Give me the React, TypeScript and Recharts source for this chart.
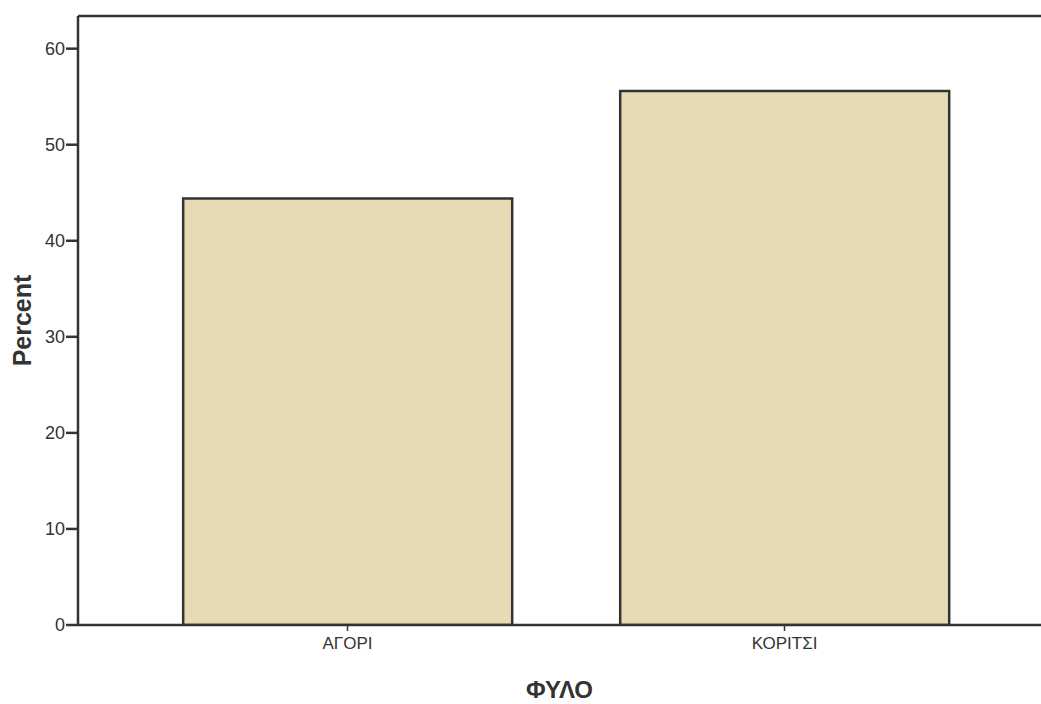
import React from 'react';
import { BarChart, Bar, XAxis, YAxis, ReferenceLine, Label } from 'recharts';

const categories = ['ΑΓΟΡΙ', 'ΚΟΡΙΤΣΙ'];
const percents = [44.4, 55.6];
const yTicks = [0, 10, 20, 30, 40, 50, 60];
const xTitle = 'ΦΥΛΟ';
const yTitle = 'Percent';

const data = categories.map((c, i) => ({ name: c, value: percents[i] }));

const FONT = '"Liberation Sans", Arial, sans-serif';
const INK = '#333333';

export default function App() {
  return (
    <div style={{ position: 'absolute', left: 0, top: 0, width: 1041, height: 704, background: '#ffffff' }}>
      <BarChart
        width={1041}
        height={704}
        data={data}
        margin={{ top: 16, right: 0, bottom: 0, left: 0 }}
        barCategoryGap="12.4%"
      >
        <XAxis
          dataKey="name"
          height={79}
          padding={{ left: 51, right: 38 }}
          axisLine={{ stroke: INK, strokeWidth: 2.5 }}
          tickLine={{ stroke: INK, strokeWidth: 1.5 }}
          tickSize={6}
          tickMargin={6}
          tick={{ fill: INK, fontSize: 17, fontFamily: FONT }}
        >
          <Label
            value={xTitle}
            position="insideBottom"
            offset={6}
            style={{ fill: INK, fontSize: 24, fontWeight: 'bold', fontFamily: FONT }}
          />
        </XAxis>
        <YAxis
          width={78}
          domain={[0, 63.4]}
          ticks={yTicks}
          allowDataOverflow
          axisLine={{ stroke: INK, strokeWidth: 2.5 }}
          tickLine={{ stroke: INK, strokeWidth: 2.5 }}
          tickSize={12}
          tickMargin={1}
          tick={{ fill: INK, fontSize: 18, fontFamily: FONT }}
        >
          <Label
            value={yTitle}
            angle={-90}
            position="insideLeft"
            offset={22}
            style={{ fill: INK, fontSize: 25, fontWeight: 'bold', fontFamily: FONT, textAnchor: 'middle' }}
          />
        </YAxis>
        <ReferenceLine y={63.4} stroke={INK} strokeWidth={2.5} ifOverflow="extendDomain" />
        <Bar
          dataKey="value"
          fill="#e6dbb4"
          stroke={INK}
          strokeWidth={2.5}
          isAnimationActive={false}
        />
      </BarChart>
    </div>
  );
}
